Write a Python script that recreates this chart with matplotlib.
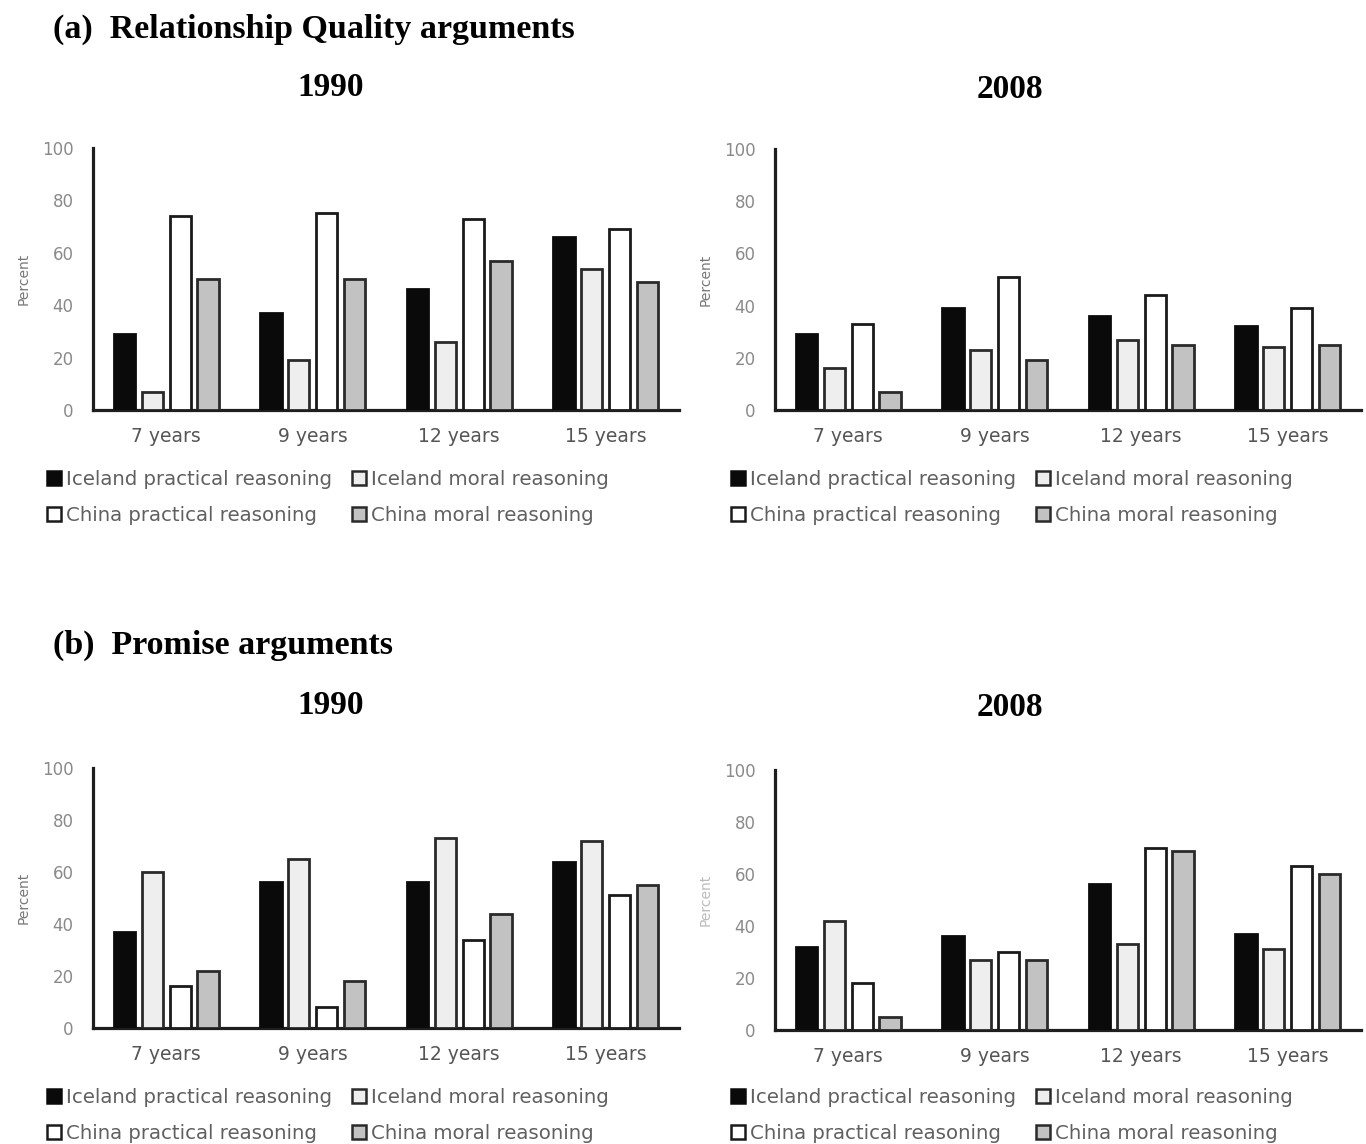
import matplotlib.pyplot as plt
from matplotlib.patches import Patch
import numpy as np

### Data: percent of arguments by age group ###
ages = ['7 years', '9 years', '12 years', '15 years']
series_names = ['Iceland practical reasoning', 'Iceland moral reasoning',
                'China practical reasoning', 'China moral reasoning']

# (a) Relationship Quality arguments
rq_1990_ice_prac = [29, 37, 46, 66]
rq_1990_ice_moral = [7, 19, 26, 54]
rq_1990_chi_prac = [74, 75, 73, 69]
rq_1990_chi_moral = [50, 50, 57, 49]

rq_2008_ice_prac = [29, 39, 36, 32]
rq_2008_ice_moral = [16, 23, 27, 24]
rq_2008_chi_prac = [33, 51, 44, 39]
rq_2008_chi_moral = [7, 19, 25, 25]

# (b) Promise arguments
pr_1990_ice_prac = [37, 56, 56, 64]
pr_1990_ice_moral = [60, 65, 73, 72]
pr_1990_chi_prac = [16, 8, 34, 51]
pr_1990_chi_moral = [22, 18, 44, 55]

pr_2008_ice_prac = [32, 36, 56, 37]
pr_2008_ice_moral = [42, 27, 33, 31]
pr_2008_chi_prac = [18, 30, 70, 63]
pr_2008_chi_moral = [5, 27, 69, 60]

### Styling ###
W, H = 1366, 1144
faces = ['#0a0a0a', '#eeeeee', '#ffffff', '#c2c2c2']
edges = ['#0a0a0a', '#2a2a2a', '#1a1a1a', '#2a2a2a']
sans = 'DejaVu Sans'
serif = 'Liberation Serif'
bar_w = 0.145
step = 0.19

fig = plt.figure(figsize=(W / 100, H / 100), dpi=100)
fig.patch.set_facecolor('white')


def add_panel(left, right, y0, y100, series, leg_x, leg_y, ylab_color):
    ax = fig.add_axes([left / W, 1 - y0 / H, (right - left) / W, (y0 - y100) / H])
    x = np.arange(len(ages))
    for k, vals in enumerate(series):
        ax.bar(x + (k - 1.5) * step, vals, width=bar_w, color=faces[k],
               edgecolor=edges[k], linewidth=2.0, zorder=3)
    ax.set_xlim(-0.5, 3.5)
    ax.set_ylim(0, 100)
    ax.set_yticks(range(0, 101, 20))
    ax.set_xticks(x)
    ax.set_xticklabels(ages, fontsize=13.5, color='#555555', family=sans)
    ax.tick_params(axis='y', length=0, pad=14, labelsize=12, labelcolor='#8a8a8a')
    ax.tick_params(axis='x', length=0, pad=12)
    for s in ['top', 'right']:
        ax.spines[s].set_visible(False)
    for s in ['left', 'bottom']:
        ax.spines[s].set_linewidth(2.3)
        ax.spines[s].set_color('#1e1e1e')
    ax.set_ylabel('Percent', fontsize=10, color=ylab_color, labelpad=8)

    handles = [Patch(facecolor=faces[k], edgecolor=edges[k], linewidth=1.8) for k in range(4)]
    order = [0, 2, 1, 3]
    fig.legend([handles[i] for i in order], [series_names[i] for i in order],
               loc='upper left', bbox_to_anchor=(leg_x / W, 1 - leg_y / H),
               ncol=2, frameon=False, borderpad=0, fontsize=14.2,
               handlelength=0.7, handleheight=0.7, handletextpad=0.25,
               columnspacing=1.05, labelspacing=0.85, labelcolor='#606060')
    return ax


# (a) Relationship Quality arguments
add_panel(93, 679, 410, 148,
          [rq_1990_ice_prac, rq_1990_ice_moral, rq_1990_chi_prac, rq_1990_chi_moral],
          37, 460, '#777777')
add_panel(775, 1361, 410, 149,
          [rq_2008_ice_prac, rq_2008_ice_moral, rq_2008_chi_prac, rq_2008_chi_moral],
          721, 460, '#777777')

# (b) Promise arguments
add_panel(93, 679, 1028, 768,
          [pr_1990_ice_prac, pr_1990_ice_moral, pr_1990_chi_prac, pr_1990_chi_moral],
          37, 1078, '#777777')
add_panel(775, 1361, 1030, 770,
          [pr_2008_ice_prac, pr_2008_ice_moral, pr_2008_chi_prac, pr_2008_chi_moral],
          721, 1078, '#bbbbbb')

### Headings ###
fig.text(53 / W, 1 - 29 / H, '(a)  Relationship Quality arguments', fontsize=24.5,
         fontweight='bold', family=serif, ha='left', va='center')
fig.text(331 / W, 1 - 88 / H, '1990', fontsize=24, fontweight='bold', family=serif,
         ha='center', va='center')
fig.text(1010 / W, 1 - 90 / H, '2008', fontsize=24, fontweight='bold', family=serif,
         ha='center', va='center')

fig.text(53 / W, 1 - 645 / H, '(b)  Promise arguments', fontsize=24.5,
         fontweight='bold', family=serif, ha='left', va='center')
fig.text(331 / W, 1 - 705 / H, '1990', fontsize=24, fontweight='bold', family=serif,
         ha='center', va='center')
fig.text(1010 / W, 1 - 708 / H, '2008', fontsize=24, fontweight='bold', family=serif,
         ha='center', va='center')

fig.savefig('out.png', dpi=100, facecolor='white')
